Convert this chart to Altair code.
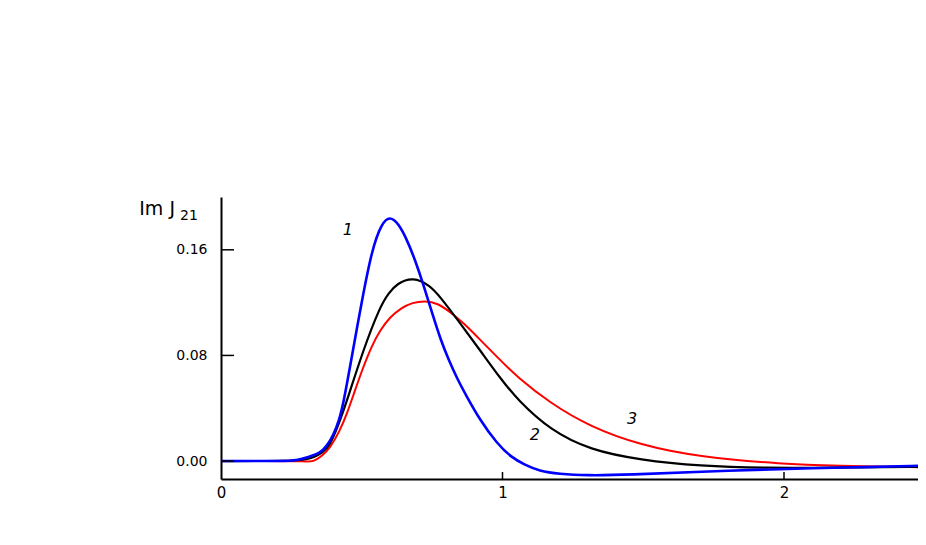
import altair as alt
import pandas as pd

# Curve 1 (blue)
x1 = [0, 0.22, 0.27, 0.31, 0.352, 0.375, 0.40, 0.42, 0.435, 0.458, 0.50, 0.536, 0.57, 0.60,
      0.63, 0.66, 0.69, 0.72, 0.75, 0.78, 0.81, 0.84, 0.87, 0.92, 0.98, 1.03, 1.08, 1.13,
      1.20, 1.30, 1.45, 1.70, 2.0, 2.2, 2.5]
y1 = [0, 0, 0.0005, 0.003, 0.006, 0.011, 0.020, 0.031, 0.044, 0.071, 0.121, 0.160, 0.180, 0.1855,
      0.180, 0.168, 0.152, 0.133, 0.112, 0.092, 0.076, 0.062, 0.050, 0.031, 0.0134, 0.003, -0.003, -0.0075,
      -0.0098, -0.0110, -0.0104, -0.0080, -0.006, -0.005, -0.0035]

# Curve 2 (black)
x2 = [0, 0.25, 0.30, 0.33, 0.36, 0.387, 0.415, 0.448, 0.505, 0.565, 0.595, 0.625, 0.683, 0.742,
      0.778, 0.849, 0.92, 0.991, 1.055, 1.169, 1.311, 1.489, 1.70, 1.94, 2.175, 2.5]
y2 = [0, 0, 0.001, 0.003, 0.006, 0.012, 0.026, 0.046, 0.084, 0.117, 0.127, 0.1345, 0.1395, 0.133,
      0.1246, 0.1045, 0.084, 0.063, 0.046, 0.0235, 0.0083, 0.0008, -0.0038, -0.0053, -0.005, -0.0043]

# Curve 3 (red)
x3 = [0, 0.30, 0.327, 0.36, 0.387, 0.42, 0.448, 0.475, 0.505, 0.535, 0.565, 0.60, 0.64, 0.68,
      0.725, 0.77, 0.813, 0.86, 0.92, 0.98, 1.055, 1.169, 1.311, 1.489, 1.70, 2.0, 2.175, 2.5]
y3 = [0, 0, -0.0008, 0.004, 0.0098, 0.022, 0.036, 0.053, 0.071, 0.087, 0.099, 0.109, 0.116, 0.120,
      0.1215, 0.1195, 0.113, 0.105, 0.092, 0.079, 0.063, 0.044, 0.026, 0.0121, 0.003, -0.0023, -0.0035, -0.0048]

label_text = ["1", "2", "3"]
label_x = [0.451, 1.115, 1.46]
label_y = [0.175, 0.0197, 0.0318]

x_ticks = [0, 1, 2]
y_ticks = [0, 0.08, 0.16]

W, H = 697, 282
FONT = "DejaVu Sans"

xs = alt.Scale(domain=[0, 2.476], nice=False, zero=False)
ys = alt.Scale(domain=[-0.0136, 0.2], nice=False, zero=False)

xaxis = alt.Axis(values=x_ticks, format="d", ticks=False, grid=False, domainColor="black",
                 domainWidth=2, labelFont=FONT, labelFontSize=15, labelColor="black",
                 labelPadding=6, labelFlush=False, title=None)
yaxis = alt.Axis(values=y_ticks, format=".2f", ticks=False, grid=False, domainColor="black",
                 domainWidth=2, labelFont=FONT, labelFontSize=14, labelColor="black",
                 labelPadding=14, labelFlush=False, title=None)


def curve(xv, yv, color, width):
    df = pd.DataFrame({"x": xv, "y": yv})
    return alt.Chart(df).mark_line(color=color, strokeWidth=width, interpolate="basis").encode(
        x=alt.X("x:Q", scale=xs, axis=xaxis),
        y=alt.Y("y:Q", scale=ys, axis=yaxis),
    )


red = curve(x3, y3, "#ff0000", 2)
black = curve(x2, y2, "#000000", 2.2)
blue = curve(x1, y1, "#0000ff", 2.6)

xt = alt.Chart(pd.DataFrame({"x": x_ticks[1:]})).mark_rule(color="black", strokeWidth=1.5).encode(
    x=alt.X("x:Q", scale=xs, axis=xaxis), y=alt.value(H), y2=alt.value(H - 7))
yt = alt.Chart(pd.DataFrame({"y": y_ticks})).mark_rule(color="black", strokeWidth=1.5).encode(
    y=alt.Y("y:Q", scale=ys, axis=yaxis), x=alt.value(0), x2=alt.value(13))

labels = alt.Chart(pd.DataFrame({"t": label_text, "x": label_x, "y": label_y})).mark_text(
    font=FONT, fontSize=16, fontStyle="italic", color="black", baseline="middle", align="center"
).encode(x=alt.X("x:Q", scale=xs, axis=xaxis), y=alt.Y("y:Q", scale=ys, axis=yaxis), text="t:N")

title_main = alt.Chart(pd.DataFrame({"t": ["Im J"]})).mark_text(
    font=FONT, fontSize=19, color="black", align="right", baseline="alphabetic"
).encode(x=alt.value(-46), y=alt.value(18), text="t:N")
title_sub = alt.Chart(pd.DataFrame({"t": ["21"]})).mark_text(
    font=FONT, fontSize=14, color="black", align="left", baseline="alphabetic"
).encode(x=alt.value(-41), y=alt.value(23), text="t:N")

chart = alt.layer(red, black, blue, xt, yt, labels, title_main, title_sub).properties(
    width=W, height=H,
    background="white",
    autosize=alt.AutoSizeParams(type="none"),
    padding={"left": 213, "top": 189, "right": 0, "bottom": 40},
).configure_view(stroke="transparent", strokeWidth=0).configure_axis(grid=False)

chart.save("out.html", embed_options={"renderer": "svg", "actions": False})
